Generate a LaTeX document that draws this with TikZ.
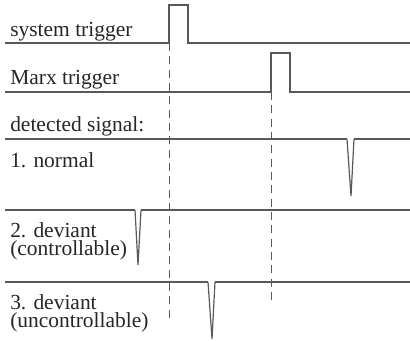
\documentclass[tikz,border=0pt]{standalone}
\usepackage{fontspec}
\setmainfont{Liberation Serif}
\begin{document}
\begin{tikzpicture}[x=0.75pt,y=-0.75pt,
  sig/.style={draw=black!65,line width=1.1pt,line join=miter},
  spk/.style={draw=black!65,line width=0.9pt,line join=miter},
  guide/.style={draw=black!65,line width=0.7pt,dash pattern=on 6pt off 4pt},
  lbl/.style={anchor=base west,inner sep=0pt,text=black!85,align=left,font=\fontsize{16.1}{13.5}\selectfont}]
\useasboundingbox (0,0) rectangle (410,340);
% labels
\node[lbl] (t1) at (10,36) {system trigger};
\node[lbl] (t2) at (10,84) {Marx trigger};
\node[lbl] (t3) at (10,131) {detected signal:};
\node[lbl] (t4) at (10,167) {1. normal};
\node[lbl] (t5) at (10,255) {2. deviant\\(controllable)};
\node[lbl] (t6) at (10,327) {3. deviant\\(uncontrollable)};
% coordinates
\coordinate (s0) at (5,43);   \coordinate (s1) at (169,43); \coordinate (s2) at (169,5);
\coordinate (s3) at (188,5);  \coordinate (s4) at (188,43); \coordinate (s5) at (410,43);
\coordinate (m0) at (5,92);   \coordinate (m1) at (271,92); \coordinate (m2) at (271,53);
\coordinate (m3) at (290,53); \coordinate (m4) at (290,92); \coordinate (m5) at (410,92);
\coordinate (a0) at (5,139);  \coordinate (a1) at (347,139); \coordinate (a2) at (351,196);
\coordinate (a3) at (354,139); \coordinate (a4) at (410,139);
\coordinate (b0) at (5,210);  \coordinate (b1) at (135,210); \coordinate (b2) at (138,265);
\coordinate (b3) at (141,210); \coordinate (b4) at (410,210);
\coordinate (c0) at (5,282);  \coordinate (c1) at (208,282); \coordinate (c2) at (212,339);
\coordinate (c3) at (215,282); \coordinate (c4) at (410,282);
\coordinate (d1) at (169,322); \coordinate (d2) at (271,302);
% signals
\draw[sig] (s0) -- (s1) -- (s2) -- (s3) -- (s4) -- (s5);
\draw[sig] (m0) -- (m1) -- (m2) -- (m3) -- (m4) -- (m5);
\draw[sig] (a0) -- (a1);
\draw[spk] (a1) -- (a2) -- (a3);
\draw[sig] (a3) -- (a4);
\draw[sig] (b0) -- (b1);
\draw[spk] (b1) -- (b2) -- (b3);
\draw[sig] (b3) -- (b4);
\draw[sig] (c0) -- (c1);
\draw[spk] (c1) -- (c2) -- (c3);
\draw[sig] (c3) -- (c4);
% guides
\draw[guide] (s1) -- (d1);
\draw[guide] (m1) -- (d2);
\end{tikzpicture}
\end{document}
